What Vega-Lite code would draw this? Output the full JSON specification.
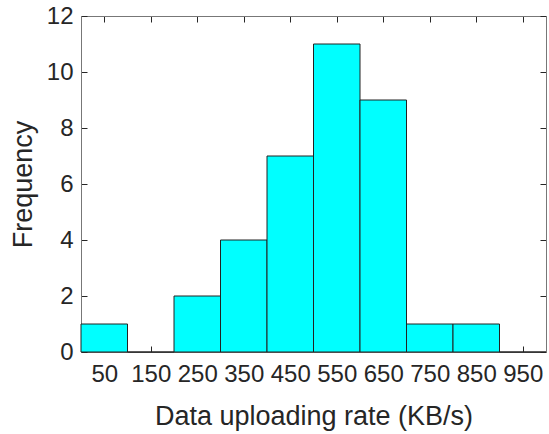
{
  "$schema": "https://vega.github.io/schema/vega-lite/v6.json",
  "autosize": {"type": "none"},
  "width": 465,
  "height": 336,
  "padding": {"left": 81, "top": 16, "right": 3, "bottom": 82},
  "background": "white",
  "config": {
    "view": {"stroke": null},
    "font": "Liberation Sans",
    "axis": {
      "grid": false,
      "domainColor": "#777777",
      "domainWidth": 1,
      "tickColor": "#262626",
      "tickSize": -6,
      "labelColor": "#262626",
      "titleColor": "#262626",
      "labelFontSize": 24,
      "titleFontSize": 27,
      "labelFont": "Liberation Sans",
      "titleFont": "Liberation Sans",
      "titleFontWeight": "normal"
    }
  },
  "data": {
    "values": [
      {"start": 0, "end": 100, "count": 1},
      {"start": 100, "end": 200, "count": 0},
      {"start": 200, "end": 300, "count": 2},
      {"start": 300, "end": 400, "count": 4},
      {"start": 400, "end": 500, "count": 7},
      {"start": 500, "end": 600, "count": 11},
      {"start": 600, "end": 700, "count": 9},
      {"start": 700, "end": 800, "count": 1},
      {"start": 800, "end": 900, "count": 1},
      {"start": 900, "end": 1000, "count": 0}
    ]
  },
  "layer": [
    {
      "mark": {"type": "bar", "fill": "#00ffff", "stroke": "#222222", "strokeWidth": 1, "clip": false},
      "encoding": {
        "x": {
          "field": "start", "type": "quantitative",
          "scale": {"domain": [0, 1000], "nice": false, "zero": false},
          "axis": {
            "orient": "bottom",
            "values": [50, 150, 250, 350, 450, 550, 650, 750, 850, 950],
            "title": "Data uploading rate (KB/s)",
            "labelPadding": 16,
            "titlePadding": 17,
            "labelFlush": false,
            "labelOverlap": false
          }
        },
        "x2": {"field": "end"},
        "y": {
          "field": "count", "type": "quantitative",
          "scale": {"domain": [0, 12], "nice": false},
          "axis": {
            "orient": "left",
            "values": [0, 2, 4, 6, 8, 10, 12],
            "title": "Frequency",
            "labelPadding": 14,
            "titlePadding": 9,
            "labelFlush": false,
            "labelOverlap": false
          }
        },
        "y2": {"datum": 0}
      }
    },
    {
      "mark": {"type": "bar", "opacity": 0},
      "encoding": {
        "x": {
          "field": "start", "type": "quantitative",
          "scale": {"domain": [0, 1000], "nice": false, "zero": false},
          "axis": {
            "orient": "top",
            "values": [50, 150, 250, 350, 450, 550, 650, 750, 850, 950],
            "labels": false,
            "title": null
          }
        },
        "x2": {"field": "end"},
        "y": {
          "field": "count", "type": "quantitative",
          "scale": {"domain": [0, 12], "nice": false},
          "axis": {
            "orient": "right",
            "values": [0, 2, 4, 6, 8, 10, 12],
            "labels": false,
            "title": null
          }
        },
        "y2": {"datum": 0}
      }
    }
  ],
  "resolve": {"axis": {"x": "independent", "y": "independent"}}
}
